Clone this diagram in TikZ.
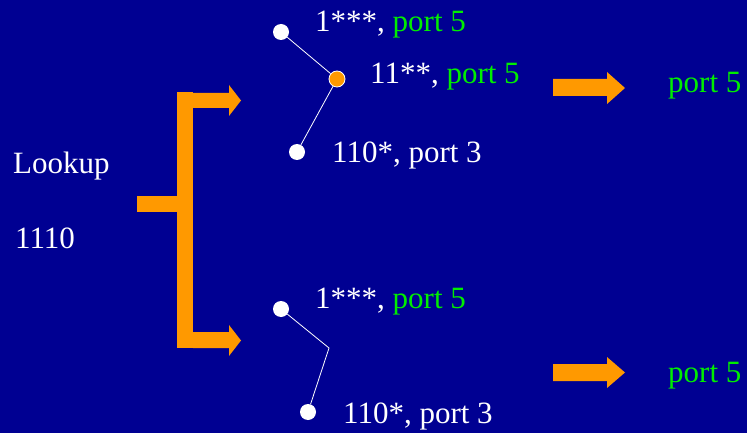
\documentclass[tikz,border=0pt]{standalone}
\usepackage{fontspec}
\setmainfont{Liberation Serif}
\definecolor{bgblue}{RGB}{0,0,146}
\definecolor{orng}{RGB}{255,153,0}
\definecolor{grn}{RGB}{0,238,0}
\begin{document}
\begin{tikzpicture}[x=1pt,y=-1pt,
  txt/.style={anchor=base west,inner sep=0pt,text=white,font=\fontsize{31}{31}\selectfont},
  gtxt/.style={txt,text=grn},
  wdot/.style={circle,fill=white,inner sep=0pt,minimum size=16pt},
  odot/.style={circle,fill=orng,draw=white,line width=0.8pt,inner sep=0pt,minimum size=16pt},
  link/.style={white,line width=0.8pt},
  blk/.style={fill=orng}]
\fill[bgblue] (0,0) rectangle (747,433);
\useasboundingbox (0,0) rectangle (747,433);
% bracket
\fill[blk] (177,92) rectangle (193,348);
\fill[blk] (137,196) rectangle (177,212);
% block arrows from bracket
\fill[blk] (193,93) -- (229,93) -- (229,85) -- (241,100.5) -- (229,116) -- (229,108) -- (193,108) -- cycle;
\fill[blk] (193,332) -- (229,332) -- (229,325) -- (241,340.5) -- (229,356) -- (229,348) -- (193,348) -- cycle;
% right arrows
\fill[blk] (553,79) -- (607,79) -- (607,72) -- (625,88) -- (607,104) -- (607,96) -- (553,96) -- cycle;
\fill[blk] (553,364) -- (607,364) -- (607,357) -- (625,372.5) -- (607,388) -- (607,381) -- (553,381) -- cycle;
% texts
\node[txt] (lookup) at (13,173) {Lookup};
\node[txt] (addr) at (15,248) {1110};
\node[gtxt] (out1) at (668,93) {port 5};
\node[gtxt] (out2) at (668,382) {port 5};
% top tree
\node[wdot] (a1) at (281,32) {};
\node[odot] (a2) at (337,79) {};
\node[wdot] (a3) at (297,152) {};
\draw[link] (a1) -- (a2);
\draw[link] (a2) -- (a3);
\node[txt] (ta1) at (315,32) {1***, \textcolor{grn}{port 5}};
\node[txt] (ta2) at (370,84) {11**, \textcolor{grn}{port 5}};
\node[txt] (ta3) at (332,163) {110*, port 3};
% bottom tree
\node[wdot] (b1) at (281,309) {};
\node[wdot] (b3) at (308,412) {};
\coordinate (bk) at (329,348);
\draw[link] (b1) -- (bk) -- (b3);
\node[txt] (tb1) at (315,308) {1***, \textcolor{grn}{port 5}};
\node[txt] (tb3) at (343,423) {110*, port 3};
\end{tikzpicture}
\end{document}
